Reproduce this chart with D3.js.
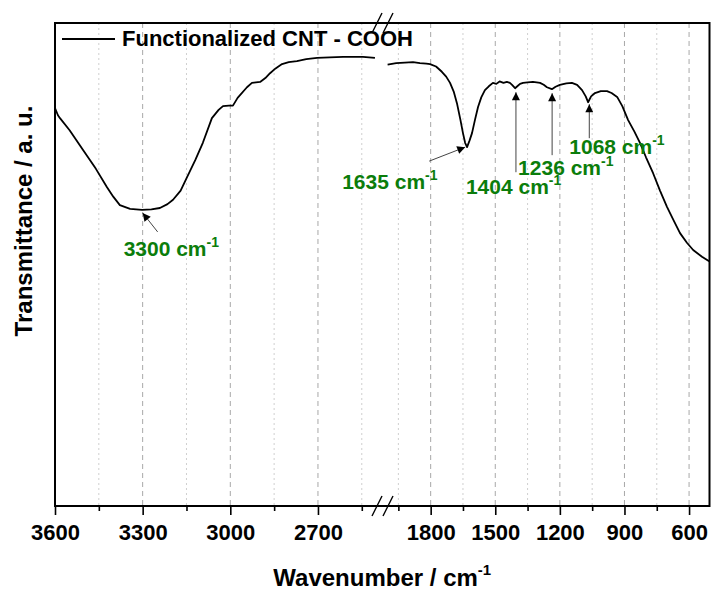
<!DOCTYPE html>
<html>
<head>
<meta charset="utf-8">
<script src="https://cdn.jsdelivr.net/npm/d3@7"></script>
<style>
  body { margin: 0; background: #fff; }
  svg text { font-family: "Liberation Sans", Arial, sans-serif; font-weight: bold; }
</style>
</head>
<body>
<div id="chart"></div>
<script>
// spectrum: left part 3600-2500, right part 2000-500
const wnLeft = [3600, 3590, 3583, 3550, 3504, 3460, 3422, 3400, 3378, 3343, 3302, 3270, 3241, 3215, 3196, 3170, 3148, 3120, 3094, 3063, 3040, 3025, 3005, 2991, 2975, 2943, 2926, 2898, 2880, 2864, 2845, 2823, 2800, 2772, 2740, 2703, 2660, 2614, 2546, 2505];
const tLeft = [82.4, 80.9, 80.3, 77.8, 73.7, 69.8, 66.0, 64.0, 62.3, 61.5, 61.3, 61.4, 61.7, 62.5, 63.4, 65.3, 68.1, 71.6, 75.2, 80.3, 82.0, 82.8, 82.9, 82.9, 84.5, 86.7, 87.6, 87.8, 88.6, 89.6, 90.6, 91.5, 91.9, 92.1, 92.5, 92.8, 92.9, 93.0, 93.0, 92.8];

const wnRight = [2000, 1960, 1920, 1882, 1850, 1820, 1803, 1775, 1748, 1728, 1710, 1693, 1678, 1662, 1650, 1640, 1631, 1620, 1608, 1594, 1580, 1565, 1548, 1530, 1511, 1495, 1480, 1462, 1446, 1432, 1422, 1408, 1395, 1385, 1371, 1350, 1325, 1308, 1292, 1275, 1260, 1237, 1220, 1200, 1170, 1144, 1120, 1097, 1080, 1069, 1055, 1037, 1010, 981, 960, 934, 910, 883, 855, 828, 800, 767, 735, 702, 670, 642, 610, 581, 540, 505];
const tRight = [91.4, 91.7, 91.8, 91.9, 91.7, 91.6, 91.5, 91.0, 89.9, 88.9, 87.6, 85.8, 83.4, 80.0, 77.2, 75.2, 74.3, 75.6, 77.2, 80.0, 82.6, 84.6, 86.1, 86.9, 87.6, 87.4, 87.9, 87.6, 87.8, 87.6, 87.2, 86.5, 87.0, 87.4, 87.6, 87.7, 87.8, 87.7, 87.6, 87.2, 86.7, 86.3, 86.8, 87.2, 87.5, 87.6, 87.2, 86.1, 84.8, 83.6, 84.8, 85.5, 85.9, 85.9, 85.5, 84.7, 82.8, 79.9, 77.6, 75.2, 72.2, 68.9, 65.3, 61.9, 59.0, 56.5, 54.5, 53.0, 51.6, 50.6];

const majorLeft = [3600, 3300, 3000, 2700];
const minorLeft = [3450, 3150, 2850, 2550];
const majorRight = [1800, 1500, 1200, 900, 600];
const minorRight = [1950, 1650, 1350, 1050, 750];

const peaks = [3300, 1635, 1404, 1236, 1068];
const legendLabel = 'Functionalized CNT - COOH';
const xTitle = 'Wavenumber / cm';
const yTitle = 'Transmittance / a. u.';

// layout of the peak notes, relative to the peak point: arrow tip, arrow tail, label
const noteLayout = [
  { tip: [0, 3], tail: [15, 22], label: [-19, 46] },
  { tip: [-1, 0], tail: [-37, 14], label: [-124, 42] },
  { tip: [0, 4], tail: [0, 84], label: [-50, 106] },
  { tip: [0, 4], tail: [0, 66], label: [-34, 86] },
  { tip: [1, 2], tail: [1, 36], label: [-19, 52] }
];

const w = 711, h = 590;
const pL = 55, pR = 709.5, pT = 23, pB = 506;
const green = '#0b7d0b';

const svg = d3.select('#chart').append('svg')
  .attr('width', w).attr('height', h)
  .style('background', '#fff');

const xL = d3.scaleLinear().domain([3600, 2500]).range([pL, 376.4]);
const xR = d3.scaleLinear().domain([2000, 500]).range([387.6, 710.6]);
const y = d3.scaleLinear().domain([0, 100]).range([pB, pT]);

const xOf = v => v > 2250 ? xL(v) : xR(v);

// grid
const grid = svg.append('g');
grid.selectAll('line.major')
  .data(majorLeft.slice(1).concat(majorRight))
  .enter().append('line')
  .attr('class', 'major')
  .attr('x1', d => xOf(d)).attr('x2', d => xOf(d))
  .attr('y1', pT).attr('y2', pB)
  .attr('stroke', '#a8a8a8').attr('stroke-width', 1)
  .attr('stroke-dasharray', '5,4');
grid.selectAll('line.minor')
  .data(minorLeft.concat(minorRight))
  .enter().append('line')
  .attr('class', 'minor')
  .attr('x1', d => xOf(d)).attr('x2', d => xOf(d))
  .attr('y1', pT).attr('y2', pB)
  .attr('stroke', '#cfcfcf').attr('stroke-width', 1)
  .attr('stroke-dasharray', '2,3');

// axes
function addAxis(scale, major, minor) {
  svg.append('g').attr('class', 'ax')
    .attr('transform', `translate(0,${pB})`)
    .call(d3.axisBottom(scale).tickValues(major).tickSize(9).tickPadding(9).tickFormat(d3.format('d')));
  svg.append('g').attr('class', 'ax')
    .attr('transform', `translate(0,${pB})`)
    .call(d3.axisBottom(scale).tickValues(minor).tickSize(5).tickFormat(''));
}
addAxis(xL, majorLeft, minorLeft);
addAxis(xR, majorRight, minorRight);
svg.selectAll('.ax .domain').remove();
svg.selectAll('.ax line').attr('stroke', '#000').attr('stroke-width', 1.6);
svg.selectAll('.ax text')
  .attr('fill', '#000')
  .style('font-size', '22px')
  .style('font-family', '"Liberation Sans", Arial, sans-serif')
  .style('font-weight', 'bold');

// frame
svg.append('rect')
  .attr('x', pL).attr('y', pT)
  .attr('width', pR - pL).attr('height', pB - pT)
  .attr('fill', 'none').attr('stroke', '#000').attr('stroke-width', 2);

// break marks
const brk = svg.append('g').attr('stroke', '#000').attr('stroke-width', 1.4);
[pT, pB].forEach(yy => {
  [377, 388].forEach(cx => {
    brk.append('line')
      .attr('x1', cx - 5).attr('y1', yy + 10)
      .attr('x2', cx + 5).attr('y2', yy - 10);
  });
});

// spectrum
const line = d3.line().x(d => d.x).y(d => y(d.t));
const left = wnLeft.map((v, i) => ({ x: xL(v), t: tLeft[i] }));
const right = wnRight.map((v, i) => ({ x: xR(v), t: tRight[i] }));
[left, right].forEach(seg => {
  svg.append('path').datum(seg)
    .attr('d', line)
    .attr('fill', 'none')
    .attr('stroke', '#000')
    .attr('stroke-width', 1.8)
    .attr('stroke-linejoin', 'round');
});

// legend
svg.append('line')
  .attr('x1', 62).attr('x2', 115).attr('y1', 39).attr('y2', 39)
  .attr('stroke', '#000').attr('stroke-width', 1.8);
svg.append('text')
  .attr('x', 122).attr('y', 46)
  .style('font-size', '22px')
  .text(legendLabel);

// arrow head
svg.append('defs').append('marker')
  .attr('id', 'head')
  .attr('viewBox', '0 0 10 10')
  .attr('refX', 10).attr('refY', 5)
  .attr('markerWidth', 10).attr('markerHeight', 8)
  .attr('markerUnits', 'userSpaceOnUse')
  .attr('orient', 'auto')
  .append('path').attr('d', 'M0,0 L10,5 L0,10 Z').attr('fill', '#000');

// peak notes
const allWn = wnLeft.concat(wnRight);
const allT = tLeft.concat(tRight);
peaks.forEach((p, i) => {
  // closest data point to the peak
  const k = d3.minIndex(allWn, v => Math.abs(v - p));
  const px = xOf(p);
  const py = y(allT[k]);
  const lay = noteLayout[i];
  svg.append('line')
    .attr('x1', px + lay.tail[0]).attr('y1', py + lay.tail[1])
    .attr('x2', px + lay.tip[0]).attr('y2', py + lay.tip[1])
    .attr('stroke', '#444').attr('stroke-width', 1)
    .attr('marker-end', 'url(#head)');
  const t = svg.append('text')
    .attr('x', px + lay.label[0]).attr('y', py + lay.label[1])
    .attr('fill', green)
    .style('font-size', '21px');
  t.append('tspan').text(p + ' cm');
  t.append('tspan').attr('dy', -9).style('font-size', '14px').text('-1');
});

// titles
const xt = svg.append('text')
  .attr('x', (pL + pR) / 2).attr('y', 586)
  .attr('text-anchor', 'middle')
  .style('font-size', '24px');
xt.append('tspan').text(xTitle);
xt.append('tspan').attr('dy', -11).style('font-size', '15px').text('-1');

svg.append('text')
  .attr('transform', 'translate(32,221) rotate(-90)')
  .attr('text-anchor', 'middle')
  .style('font-size', '24px')
  .text(yTitle);
</script>
</body>
</html>
